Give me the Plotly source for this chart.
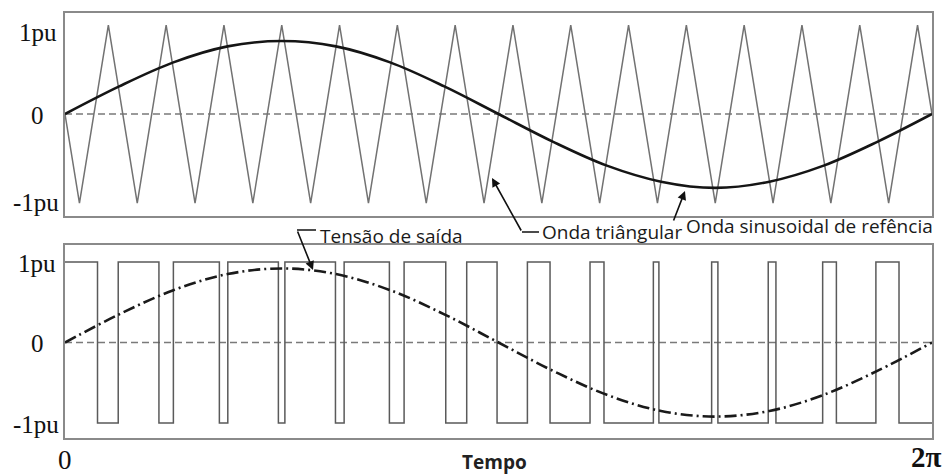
import plotly.graph_objects as go

W, H = 944, 476

# ---------------- data ----------------
# time axis in electrical degrees, 0 .. 360 (= 0 .. 2π)
tri_x = [0, 6, 18, 30, 42, 54, 66, 78, 90, 102, 114, 126, 138, 150, 162, 174,
         186, 198, 210, 222, 234, 246, 258, 270, 282, 294, 306, 318, 330, 342, 354, 360]
tri_y = [0, -1, 1, -1, 1, -1, 1, -1, 1, -1, 1, -1, 1, -1, 1, -1,
         1, -1, 1, -1, 1, -1, 1, -1, 1, -1, 1, -1, 1, -1, 1, 0]

sine_x = [0, 22.5, 45, 67.5, 90, 112.5, 135, 157.5, 180,
          202.5, 225, 247.5, 270, 292.5, 315, 337.5, 360]
sine_top_y = [0, 0.31, 0.58, 0.76, 0.82, 0.76, 0.58, 0.31, 0,
              -0.31, -0.58, -0.76, -0.83, -0.76, -0.58, -0.31, 0]
sine_bot_y = [0, 0.35, 0.65, 0.85, 0.92, 0.85, 0.65, 0.35, 0,
              -0.35, -0.65, -0.85, -0.92, -0.85, -0.65, -0.35, 0]

pwm_x = [0, 13.5, 22.1, 39.0, 45.0, 64.1, 67.6, 88.6, 91.3, 112.3, 115.9,
         134.7, 140.8, 158.1, 166.8, 179.4, 192.0, 201.4, 218.0, 223.8,
         244.3, 246.6, 268.5, 271.1, 292.0, 295.2, 314.6, 320.3, 336.7, 346.3, 360]
pwm_y = [1, -1, 1, -1, 1, -1, 1, -1, 1, -1, 1,
         -1, 1, -1, 1, -1, 1, -1, 1, -1,
         1, -1, 1, -1, 1, -1, 1, -1, 1, -1, -1]

y_tick_labels = ["1pu", "0", "-1pu"]
x_tick_labels = ["0", "2π"]
x_title = "Tempo"
label_tri = "Onda triângular"
label_sine = "Onda sinusoidal de refência"
label_out = "Tensão de saída"

# ---------------- helpers ----------------
def px(x):
    return x / W

def py(y):
    return 1 - y / H

FRAME = "#8a8a8a"
SERIF = "Liberation Serif, Times New Roman, serif"
SANS = "Open Sans, Lato, sans-serif"

fig = go.Figure()

# top panel
fig.add_trace(go.Scatter(x=tri_x, y=tri_y, mode="lines", xaxis="x", yaxis="y",
                         line=dict(color="#727272", width=1.5), hoverinfo="skip"))
fig.add_trace(go.Scatter(x=sine_x, y=sine_top_y, mode="lines", xaxis="x", yaxis="y",
                         line=dict(color="#151515", width=2.6, shape="spline"),
                         hoverinfo="skip"))
# bottom panel
fig.add_trace(go.Scatter(x=pwm_x, y=pwm_y, mode="lines", xaxis="x2", yaxis="y2",
                         line=dict(color="#5a5a5a", width=1.5, shape="hv"),
                         hoverinfo="skip"))
fig.add_trace(go.Scatter(x=sine_x, y=sine_bot_y, mode="lines", xaxis="x2", yaxis="y2",
                         line=dict(color="#1a1a1a", width=2.6, shape="spline",
                                   dash="12px,4px,2px,4px"),
                         hoverinfo="skip"))

shapes = []
for xr, yr in (("x", "y"), ("x2", "y2")):
    shapes.append(dict(type="line", xref=xr, yref=yr, x0=0, x1=360, y0=0, y1=0,
                       line=dict(color="#7a7a7a", width=1.5, dash="7px,4px"),
                       layer="below"))

# bent leader segments
shapes.append(dict(type="line", xref="paper", yref="paper",
                   x0=px(522), x1=px(539), y0=py(232), y1=py(232),
                   line=dict(color="#111", width=1.5)))
shapes.append(dict(type="line", xref="paper", yref="paper",
                   x0=px(297), x1=px(316), y0=py(230), y1=py(230),
                   line=dict(color="#111", width=1.5)))

ann = []
# y tick labels (top panel, bottom panel)
top_pos = [(38, 33), (37, 115), (36, 202)]
bot_pos = [(37, 263), (37, 343), (36, 424)]
for lab, (x, y) in zip(y_tick_labels, top_pos):
    ann.append(dict(text=lab, x=px(x), y=py(y), xref="paper", yref="paper",
                    xanchor="center", yanchor="middle", showarrow=False,
                    font=dict(family=SERIF, size=25, color="#111")))
for lab, (x, y) in zip(y_tick_labels, bot_pos):
    ann.append(dict(text=lab, x=px(x), y=py(y), xref="paper", yref="paper",
                    xanchor="center", yanchor="middle", showarrow=False,
                    font=dict(family=SERIF, size=25, color="#111")))
# x tick labels
ann.append(dict(text=x_tick_labels[0], x=px(65), y=py(460), xref="paper", yref="paper",
                xanchor="center", yanchor="middle", showarrow=False,
                font=dict(family=SERIF, size=27, color="#111")))
ann.append(dict(text="<b>" + x_tick_labels[1] + "</b>", x=px(926), y=py(457),
                xref="paper", yref="paper", xanchor="center", yanchor="middle",
                showarrow=False, font=dict(family=SERIF, size=29, color="#111")))
ann.append(dict(text="<b>" + x_title + "</b>", x=px(494), y=py(462), xref="paper",
                yref="paper", xanchor="center", yanchor="middle", showarrow=False,
                font=dict(family=SANS, size=19, color="#222")))

# arrows
arrow_style = dict(showarrow=True, arrowhead=2, arrowsize=1.1, arrowwidth=1.6,
                   arrowcolor="#111", xref="paper", yref="paper", text="")
ann.append(dict(x=px(492), y=py(178), ax=30, ay=54, **arrow_style))
ann.append(dict(x=px(685), y=py(191), ax=-12, ay=31, **arrow_style))
ann.append(dict(x=px(313), y=py(270), ax=-16, ay=-40, **arrow_style))

# annotation texts
ann.append(dict(text=label_tri, x=px(540), y=py(232), xref="paper", yref="paper",
                xanchor="left", yanchor="middle", showarrow=False,
                font=dict(family=SANS, size=19, color="#1a1a1a")))
ann.append(dict(text=label_sine, x=px(684), y=py(226), xref="paper", yref="paper",
                xanchor="left", yanchor="middle", showarrow=False,
                font=dict(family=SANS, size=19, color="#1a1a1a")))
ann.append(dict(text=label_out, x=px(318), y=py(236), xref="paper", yref="paper",
                xanchor="left", yanchor="middle", showarrow=False,
                font=dict(family=SANS, size=19, color="#1a1a1a")))

axis_common = dict(showline=True, mirror=True, linecolor=FRAME, linewidth=2,
                   showgrid=False, zeroline=False, showticklabels=False, ticks="",
                   fixedrange=True)

fig.update_layout(
    width=W, height=H,
    margin=dict(l=0, r=0, t=0, b=0),
    paper_bgcolor="white", plot_bgcolor="white",
    showlegend=False,
    xaxis=dict(domain=[px(65), px(932)], range=[0, 360], anchor="y", **axis_common),
    yaxis=dict(domain=[py(216), py(13)], range=[-1.146, 1.135], anchor="x", **axis_common),
    xaxis2=dict(domain=[px(65), px(932)], range=[0, 360], anchor="y2", **axis_common),
    yaxis2=dict(domain=[py(438), py(245)], range=[-1.186, 1.211], anchor="x2", **axis_common),
    shapes=shapes,
    annotations=ann,
)

fig.write_html("out.html", config={"displayModeBar": False},
               post_script="document.body.style.margin='0';document.body.style.overflow='hidden';")
